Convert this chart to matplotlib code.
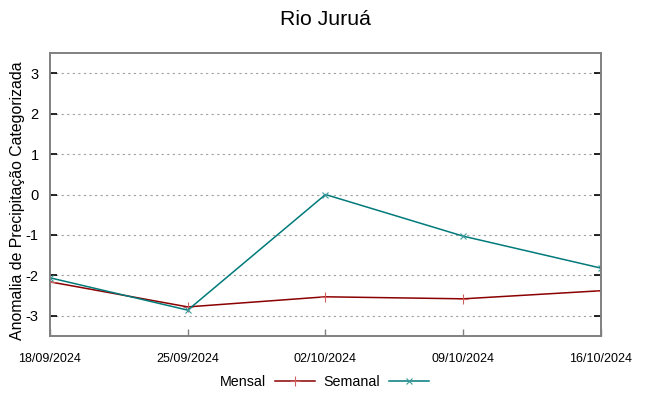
import matplotlib.pyplot as plt
import matplotlib.dates as mdates
import pandas as pd

plt.rcParams['font.family'] = ['Liberation Sans', 'DejaVu Sans']
plt.rcParams['axes.unicode_minus'] = False

# Data
datas = ["18/09/2024", "25/09/2024", "02/10/2024", "09/10/2024", "16/10/2024"]
mensal = [-2.16, -2.78, -2.53, -2.58, -2.38]
semanal = [-2.06, -2.86, 0.0, -1.03, -1.82]
yticks = [-3, -2, -1, 0, 1, 2, 3]

x = pd.to_datetime(datas, format="%d/%m/%Y")

fig = plt.figure(figsize=(6.49, 3.96), dpi=100)
ax = fig.add_axes([0.077, 0.1515, 0.849, 0.7145])

ax.plot(x, mensal, color="#8b0000", lw=1.1, marker="+", ms=7, mew=0.8,
        mec="#d06060", label="Mensal")
ax.plot(x, semanal, color="#007a7a", lw=1.1, marker="x", ms=5, mew=0.8,
        mec="#3c9a9a", label="Semanal")

ax.set_xlim(x[0], x[-1])
ax.set_ylim(-3.5, 3.5)
ax.set_yticks(yticks)
ax.set_xticks(x)
ax.xaxis.set_major_formatter(mdates.DateFormatter("%d/%m/%Y"))
ax.grid(axis="y", color="#a0a0a0", ls=(0, (2, 3)), lw=0.8)

for s in ax.spines.values():
    s.set_color("#808080")
    s.set_linewidth(1.4)
ax.tick_params(axis="y", direction="in", right=True, length=5, width=1.2,
               labelsize=10.5, pad=8, color="black")
ax.tick_params(axis="x", direction="in", length=5, width=1.0, color="#808080",
               labelsize=9, pad=12)

ax.set_ylabel("Anomalia de Precipitação Categorizada", fontsize=11.4)
ax.yaxis.set_label_coords(-0.045, 0.477)
ax.set_title("Rio Juruá", fontsize=15.3, pad=20)

fig.legend(loc="center", bbox_to_anchor=(0.5, 0.035), ncol=2, frameon=False,
           markerfirst=False, fontsize=10.3, handlelength=2.8, columnspacing=0.6,
           handletextpad=0.6)

fig.savefig("out.png", dpi=100)
